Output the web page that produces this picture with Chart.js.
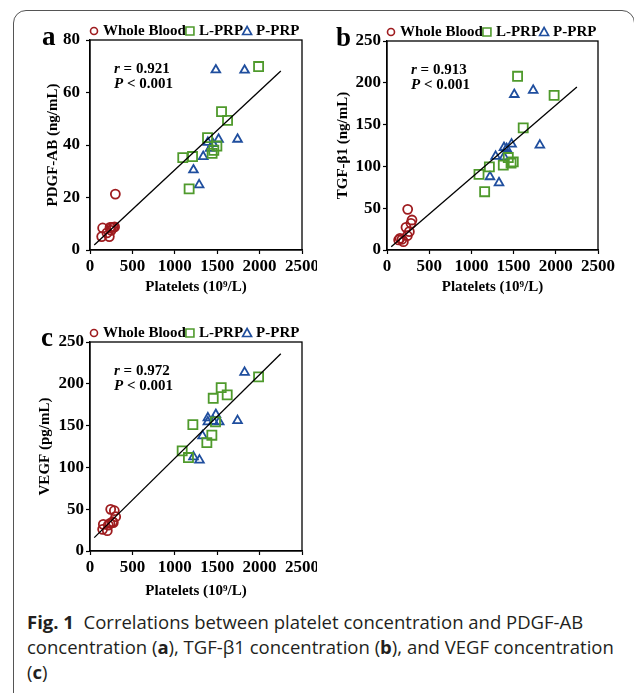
<!DOCTYPE html>
<html>
<head>
<meta charset="utf-8">
<script src="https://cdn.jsdelivr.net/npm/chart.js@4.4.1/dist/chart.umd.min.js"></script>
<style>
  body { margin: 0; background: #fff; }
  #page { position: relative; width: 634px; height: 693px; overflow: hidden; background: #fff; }
  #frame { position: absolute; left: 13px; top: 10px; width: 622px; height: 700px; border: 1.3px solid #555; border-radius: 13px; box-sizing: border-box; }
  canvas { position: absolute; }
  #caption { position: absolute; left: 27px; top: 609px; font-family: 'Open Sans', sans-serif; font-size: 18.5px; line-height: 25px; color: #231f20; white-space: nowrap; }
  #caption b { font-weight: 700; }
</style>
</head>
<body>
<div id="page">
  <div id="frame"></div>
  <canvas id="chartA" width="317" height="300" style="left:0;top:0"></canvas>
  <canvas id="chartB" width="317" height="300" style="left:317px;top:0"></canvas>
  <canvas id="chartC" width="317" height="300" style="left:0;top:301px"></canvas>
  <div id="caption"><b>Fig. 1</b>&nbsp; Correlations between platelet concentration and PDGF-AB<br>concentration (<b>a</b>), TGF-β1 concentration (<b>b</b>), and VEGF concentration<br>(<b>c</b>)</div>
</div>
<script>
// group names and colours
var groups = ['Whole Blood', 'L-PRP', 'P-PRP'];
var red = '#9e1b1e', green = '#4f9a2c', blue = '#1f4e9e';

// x range of the fitted line
var lineX = [50, 2250];

// a: PDGF-AB
var wbX_a = [299, 149, 138, 228, 236, 255, 275, 290, 200, 250];
var wbY_a = [21.3, 8.4, 5.1, 5.1, 8.6, 8.6, 8.6, 8.8, 6.5, 7.5];
var lprpX_a = [1094, 1209, 1169, 1386, 1551, 1622, 1988, 1496, 1460, 1440];
var lprpY_a = [35.2, 35.6, 23.3, 42.8, 52.7, 49.4, 69.9, 39.6, 38.0, 36.8];
var pprpX_a = [1484, 1823, 1740, 1516, 1335, 1220, 1287, 1390, 1417, 1450];
var pprpY_a = [68.6, 68.5, 42.2, 42.2, 35.6, 30.5, 24.8, 41.0, 38.7, 40.5];
var lineY_a = [1.9, 68.2];

// b: TGF-b1
var wbX_b = [245, 225, 296, 284, 265, 241, 154, 138, 194, 178];
var wbY_b = [48.6, 27.1, 35.9, 31.9, 21.9, 17.1, 14, 12, 10, 12.8];
var lprpX_b = [1547, 1980, 1614, 1090, 1157, 1213, 1378, 1437, 1470, 1496];
var lprpY_b = [207.8, 185, 146, 90.4, 69.7, 99.5, 101.5, 110.6, 104, 105.5];
var pprpX_b = [1508, 1732, 1811, 1476, 1417, 1386, 1287, 1386, 1220, 1327];
var pprpY_b = [186, 191, 125.4, 126.6, 121.4, 122.6, 112, 111.4, 87.6, 80.4];
var lineY_b = [4, 195];

// c: VEGF
var wbX_c = [244, 287, 303, 267, 236, 157, 149, 204, 275, 216];
var wbY_c = [49.8, 48.2, 41, 35, 33, 31.9, 25.9, 24.3, 34, 31];
var lprpX_c = [1988, 1547, 1618, 1453, 1213, 1087, 1161, 1437, 1378, 1480];
var lprpY_c = [208.2, 195.4, 186.7, 182.7, 151.2, 119.8, 111.8, 138.5, 129.7, 154.4];
var pprpX_c = [1823, 1740, 1484, 1390, 1390, 1524, 1327, 1220, 1291, 1457];
var pprpY_c = [213.7, 156, 163.2, 159.2, 154.4, 154.4, 137.7, 112.6, 108.7, 155];
var lineY_c = [16, 236];

var serif = '"Liberation Serif", "Times New Roman", serif';

function pts(xs, ys) {
    return xs.map(function(x, i) { return { x: x, y: ys[i] }; });
}

function drawMarker(c, style, x, y, color) {
    c.strokeStyle = color;
    c.lineWidth = 1.6;
    c.beginPath();
    if (style === 'circle') {
        c.arc(x, y, 3.5, 0, Math.PI * 2);
    } else if (style === 'rect') {
        c.rect(x - 4, y - 4, 8, 8);
    } else {
        c.moveTo(x, y - 4.5);
        c.lineTo(x + 4.5, y + 3.5);
        c.lineTo(x - 4.5, y + 3.5);
        c.closePath();
    }
    c.stroke();
}

function statLine(c, it, rest, x, y) {
    c.font = 'italic bold 15px ' + serif;
    c.fillText(it, x, y);
    var w = c.measureText(it).width;
    c.font = 'bold 15px ' + serif;
    c.fillText(rest, x + w, y);
}

// box, panel letter, legend and r / P text
var decor = {
    id: 'decor',
    afterDraw: function(chart) {
        var c = chart.ctx, a = chart.chartArea, o = chart.options.plugins.decor;
        c.save();
        c.strokeStyle = '#000';
        c.lineWidth = 1.3;
        c.strokeRect(a.left, a.top, a.right - a.left, a.bottom - a.top);

        c.fillStyle = '#000';
        c.textBaseline = 'alphabetic';
        c.font = 'bold 27px ' + serif;
        c.fillText(o.letter, o.letterX, o.letterY);

        var styles = ['circle', 'rect', 'triangle'];
        var colors = [red, green, blue];
        var x = a.left, y = a.top - 5;
        for (var i = 0; i < groups.length; i++) {
            drawMarker(c, styles[i], x + 4, y - 4, colors[i]);
            c.fillStyle = '#000';
            c.font = 'bold 15px ' + serif;
            c.fillText(groups[i], x + 13, y);
            x = x + 13 + c.measureText(groups[i]).width;
        }

        c.fillStyle = '#000';
        statLine(c, 'r', ' = ' + o.r, a.left + 24, a.top + 33);
        statLine(c, 'P', ' < 0.001', a.left + 24, a.top + 48);
        c.restore();
    }
};

function buildChart(id, p) {
    var ctx = document.getElementById(id).getContext('2d');
    return new Chart(ctx, {
        type: 'scatter',
        data: {
            datasets: [{
                type: 'line',
                data: pts(lineX, p.lineY),
                borderColor: '#000',
                borderWidth: 1.3,
                pointRadius: 0,
                fill: false
            }, {
                label: groups[0],
                data: pts(p.wbX, p.wbY),
                pointStyle: 'circle',
                pointRadius: 4.5,
                pointBorderWidth: 1.8,
                pointBorderColor: red,
                pointBackgroundColor: 'rgba(0,0,0,0)'
            }, {
                label: groups[1],
                data: pts(p.lprpX, p.lprpY),
                pointStyle: 'rect',
                pointRadius: 6.4,
                pointBorderWidth: 1.8,
                pointBorderColor: green,
                pointBackgroundColor: 'rgba(0,0,0,0)'
            }, {
                label: groups[2],
                data: pts(p.pprpX, p.pprpY),
                pointStyle: 'triangle',
                pointRadius: 5,
                pointBorderWidth: 1.8,
                pointBorderColor: blue,
                pointBackgroundColor: 'rgba(0,0,0,0)'
            }]
        },
        options: {
            responsive: false,
            animation: false,
            layout: { padding: { left: 0, top: p.top, right: p.right, bottom: 0 } },
            plugins: {
                legend: { display: false },
                tooltip: { enabled: false },
                decor: { letter: p.letter, letterX: p.letterX, letterY: p.letterY, r: p.r }
            },
            scales: {
                x: {
                    type: 'linear',
                    min: 0,
                    max: 2500,
                    border: { display: true, color: '#000', width: 1.3 },
                    grid: { drawOnChartArea: false, tickLength: 4, tickColor: '#000', tickWidth: 1.2 },
                    ticks: {
                        stepSize: 500, padding: 2, color: '#000', autoSkip: false, maxRotation: 0, minRotation: 0,
                        font: { family: serif, size: 17, weight: 'bold' },
                        callback: function(v) { return String(v); }
                    },
                    title: { display: true, text: 'Platelets (10⁹/L)', color: '#000', padding: { top: 0, bottom: p.xTitlePad }, font: { family: serif, size: 15, weight: 'bold' } },
                    afterFit: function(s) { s.height = 50; s.paddingLeft = 0; s.paddingRight = 0; }
                },
                y: {
                    min: 0,
                    max: p.yMax,
                    border: { display: true, color: '#000', width: 1.3 },
                    grid: { drawOnChartArea: false, tickLength: 4, tickColor: '#000', tickWidth: 1.2 },
                    ticks: {
                        stepSize: p.yStep, padding: p.tickPad, color: '#000',
                        font: { family: serif, size: 17, weight: 'bold' },
                        callback: function(v) { return String(v); }
                    },
                    title: { display: true, text: p.yTitle, color: '#000', padding: { top: p.yTitlePad, bottom: 0 }, font: { family: serif, size: 15, weight: 'bold' } },
                    afterFit: function(s) { s.width = p.yWidth; s.paddingTop = 0; s.paddingBottom = 0; }
                }
            }
        },
        plugins: [decor]
    });
}

var chartA = buildChart('chartA', {
    wbX: wbX_a, wbY: wbY_a, lprpX: lprpX_a, lprpY: lprpY_a, pprpX: pprpX_a, pprpY: pprpY_a, lineY: lineY_a,
    yMax: 80, yStep: 20, yTitle: 'PDGF-AB (ng/mL)', r: '0.921',
    top: 40, right: 15, yWidth: 90, tickPad: 6, yTitlePad: 44, xTitlePad: 4,
    letter: 'a', letterX: 42, letterY: 45
});

var chartB = buildChart('chartB', {
    wbX: wbX_b, wbY: wbY_b, lprpX: lprpX_b, lprpY: lprpY_b, pprpX: pprpX_b, pprpY: pprpY_b, lineY: lineY_b,
    yMax: 250, yStep: 50, yTitle: 'TGF-β1 (ng/mL)', r: '0.913',
    top: 41, right: 36, yWidth: 70, tickPad: 2, yTitlePad: 17, xTitlePad: 4,
    letter: 'b', letterX: 19, letterY: 46
});

var chartC = buildChart('chartC', {
    wbX: wbX_c, wbY: wbY_c, lprpX: lprpX_c, lprpY: lprpY_c, pprpX: pprpX_c, pprpY: pprpY_c, lineY: lineY_c,
    yMax: 250, yStep: 50, yTitle: 'VEGF (pg/mL)', r: '0.972',
    top: 41, right: 15, yWidth: 90, tickPad: 2, yTitlePad: 36, xTitlePad: 1,
    letter: 'c', letterX: 41, letterY: 45
});
</script>
</body>
</html>
